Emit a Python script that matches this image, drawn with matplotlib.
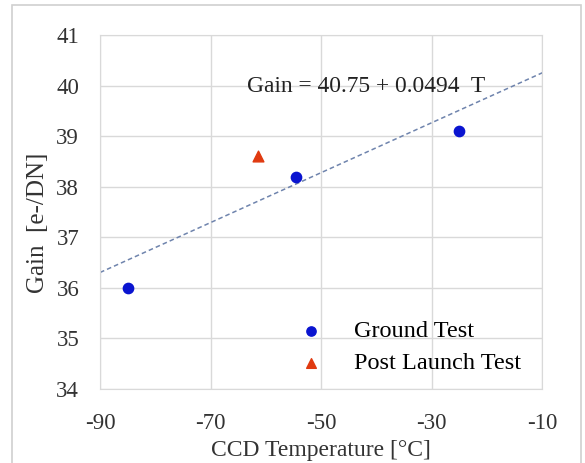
import matplotlib.pyplot as plt
from matplotlib.patches import Rectangle

# measured points
ground_temp = [-85, -54.5, -25]
ground_gain = [36.0, 38.2, 39.1]
post_temp = [-61.5]
post_gain = [38.6]

# linear fit  Gain = a + b T
fit_a = 40.75
fit_b = 0.0494
fit_range = [-90, -10]

xticks = [-90, -70, -50, -30, -10]
yticks = [34, 35, 36, 37, 38, 39, 40, 41]

plt.rcParams['font.family'] = ['Liberation Serif', 'DejaVu Serif']
plt.rcParams['axes.unicode_minus'] = False

fig = plt.figure(figsize=(5.85, 4.63), dpi=100)
ax = fig.add_axes([0.171, 0.160, 0.756, 0.764])

# outer frame of the picture
fig.patches.append(Rectangle((0.02, -0.05), 0.973, 1.04, transform=fig.transFigure,
                             fill=False, edgecolor='#d0d0d0', linewidth=1.2))

fit_y = [fit_a + fit_b * t for t in fit_range]
ax.plot(fit_range, fit_y, linestyle=(0, (3, 2)), color='#6f84ad', linewidth=1.1, zorder=2)

ax.scatter(ground_temp, ground_gain, s=55, color='#0a14d0', marker='o', zorder=3, label='Ground Test')
ax.scatter(post_temp, post_gain, s=60, color='#e03a10', marker='^', zorder=3, label='Post Launch Test')

ax.text(-63.5, 39.88, 'Gain = 40.75 + 0.0494  T', fontsize=16.9, color='#222222')

ax.set_xlim(-90, -10)
ax.set_ylim(34, 41)
ax.set_xticks(xticks)
ax.set_yticks(yticks)
ax.tick_params(length=0, labelsize=16.5, colors='#333333')
ax.tick_params(axis='x', pad=17)
ax.tick_params(axis='y', pad=15)
ax.grid(True, color='#d9d9d9', linewidth=1)
ax.set_axisbelow(True)
for sp in ax.spines.values():
    sp.set_color('#d9d9d9')

ax.set_xlabel('CCD Temperature [°C]', fontsize=17, color='#333333', labelpad=5)
ax.set_ylabel('Gain  [e-/DN]', fontsize=18, color='#333333')
ax.yaxis.set_label_coords(-0.115, 0.47)

ax.legend(loc='lower left', bbox_to_anchor=(0.40, 0.015), frameon=False, fontsize=17.5,
          handletextpad=0.75, labelspacing=0.4, borderaxespad=0.0, markerscale=0.9)

fig.savefig('out.png', dpi=100)
